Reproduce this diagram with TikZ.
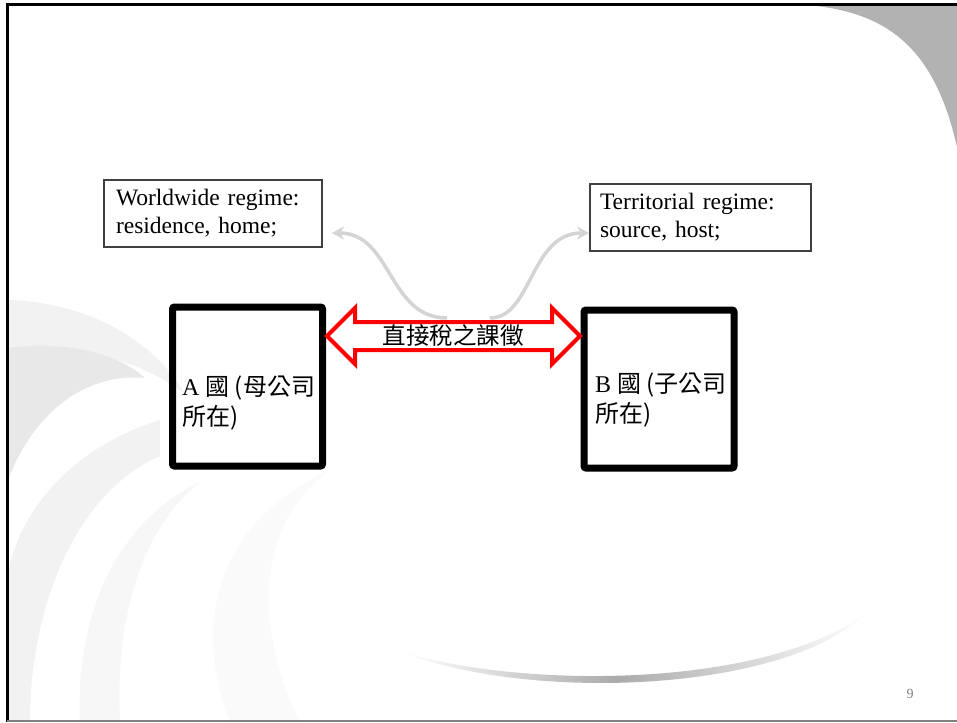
\documentclass[tikz,border=0pt]{standalone}
\usepackage{fontspec}
\setmainfont{Liberation Serif}
\newfontfamily\cjk{Noto Sans CJK TC}
\usetikzlibrary{arrows.meta}
\pgfdeclarehorizontalshading{swoosh}{100bp}{color(0bp)=(white); color(25bp)=(white); color(48bp)=(black!33); color(75bp)=(white); color(100bp)=(white)}
\begin{document}
\begin{tikzpicture}[x=1pt,y=-1pt,
  lbl/.style={draw=black!75, line width=1.2pt, fill=white, align=left, font=\fontsize{23.5}{28}\selectfont, inner sep=0pt, minimum height=67pt},
  country/.style={draw=black, line width=7pt, rounded corners=2pt, inner sep=0pt},
  ctext/.style={anchor=north west, align=left, inner sep=0pt, font=\fontsize{24}{30}\selectfont},
  greyarr/.style={draw=black!17, line width=3.5pt, -{Stealth[length=12pt,width=13pt]}},
  taxarrow/.style={draw=red, line width=4pt, fill=white, line join=miter},
]
\useasboundingbox (0,0) rectangle (957,722);
\fill[white] (0,0) rectangle (957,722);
% background swirls
\fill[black!5] (8,300) .. controls (100,303) and (160,350) .. (185,394) .. controls (130,352) and (60,345) .. (8,350) -- cycle;
\fill[black!9] (8,348) .. controls (70,340) and (120,355) .. (145,378) .. controls (80,372) and (30,420) .. (8,480) -- cycle;
\fill[black!5] (160,420) .. controls (80,445) and (25,500) .. (8,570) -- (8,722) -- (30,722) .. controls (30,600) and (80,490) .. (160,456) -- cycle;
\fill[black!3] (200,482) .. controls (120,520) and (75,610) .. (80,722) -- (120,722) .. controls (115,620) and (140,530) .. (200,482) -- cycle;
\fill[black!2] (330,470) .. controls (220,520) and (190,620) .. (230,722) -- (300,722) .. controls (250,620) and (260,520) .. (330,470) -- cycle;
% corner shape
\fill[black!30] (817,6) .. controls (890,15) and (935,50) .. (957,147) -- (957,6) -- cycle;
% bottom swoosh
\shade[shading=swoosh] (403,652) .. controls (520,688) and (760,690) .. (867,613) .. controls (780,696) and (520,700) .. (403,652) -- cycle;
% frame
\draw[black, line width=3pt] (957,5) -- (7,5) -- (7,722);
\draw[black!50, line width=2pt] (7,721) -- (957,721);
\node[text=black!50, font=\fontsize{14}{16}\selectfont] (pg) at (910,694) {9};
% text boxes
\node[lbl, minimum width=218pt, text width=194pt] (ww) at (213,213.5) {Worldwide regime:\\residence, home;};
\node[lbl, minimum width=221pt, text width=201pt] (tr) at (700.5,217.5) {Territorial regime:\\source, host;};
% countries
\node[country, minimum width=150pt, minimum height=159pt] (A) at (247.5,386.5) {};
\node[country, minimum width=150pt, minimum height=158pt] (B) at (659,389) {};
\node[ctext] (Atext) at (182,376) {A {\cjk 國 (母公司}\\{\cjk 所在)}};
\node[ctext] (Btext) at (595,373) {B {\cjk 國 (子公司}\\{\cjk 所在)}};
% red double arrow
\draw[taxarrow]
  (327,336) -- (355,308) -- (355,322) -- (552,322) -- (552,308) -- (580,336)
  -- (552,364) -- (552,350) -- (355,350) -- (355,364) -- cycle;
\node[font=\cjk\fontsize{23.5}{26}\selectfont, inner sep=0pt] (tax) at (453,336) {直接稅之課徵};
% grey arrows
\coordinate (ls) at (447,318);
\coordinate (le) at (332,233);
\coordinate (rs) at (490,318);
\coordinate (re) at (589,233);
\draw[greyarr] (ls) .. controls (388,318) and (392,233) .. (le);
\draw[greyarr] (rs) .. controls (532,318) and (530,233) .. (re);
\end{tikzpicture}
\end{document}
